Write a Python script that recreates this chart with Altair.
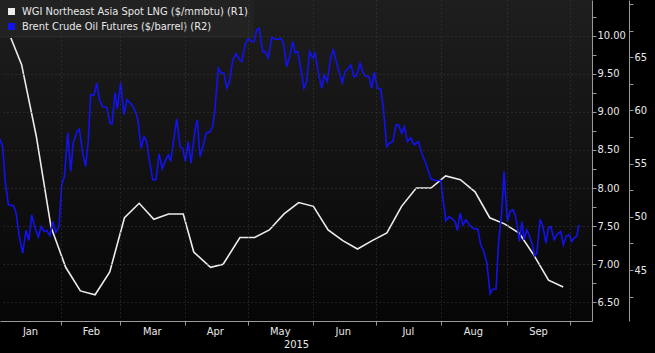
import altair as alt
import pandas as pd

LNG = "WGI Northeast Asia Spot LNG ($/mmbtu) (R1)"
BRENT = "Brent Crude Oil Futures ($/barrel) (R2)"

# Weekly LNG spot price ($/mmbtu), right axis 1
lng_dates = ["2015-01-06", "2015-01-13", "2015-01-20", "2015-01-27", "2015-02-03", "2015-02-10",
             "2015-02-17", "2015-02-24", "2015-03-03", "2015-03-10", "2015-03-17", "2015-03-24",
             "2015-03-31", "2015-04-05", "2015-04-13", "2015-04-19", "2015-04-27", "2015-05-04",
             "2015-05-11", "2015-05-18", "2015-05-25", "2015-06-01", "2015-06-08", "2015-06-15",
             "2015-06-22", "2015-06-29", "2015-07-06", "2015-07-13", "2015-07-20", "2015-07-27",
             "2015-08-03", "2015-08-10", "2015-08-17", "2015-08-24", "2015-08-31", "2015-09-07",
             "2015-09-14", "2015-09-21", "2015-09-28"]
lng_values = [10.10, 9.62, 8.68, 7.49, 6.96, 6.65, 6.60, 6.90, 7.61, 7.80, 7.59, 7.66,
              7.66, 7.16, 6.96, 7.00, 7.35, 7.35, 7.45, 7.66, 7.81, 7.76, 7.45, 7.31,
              7.20, 7.31, 7.41, 7.76, 8.00, 8.00, 8.16, 8.11, 7.95, 7.61, 7.53, 7.41,
              7.12, 6.79, 6.70]

# Daily Brent futures ($/barrel), right axis 2; days counted from 2015-01-01
brent_days = [1.7, 3.0, 4.1, 5.7, 8.1, 9.3, 10.9, 12.5, 14.1, 15.5, 16.8, 18.4, 20.0, 21.3, 22.8,
              24.0, 25.5, 26.8, 28.3, 29.8, 31.1, 32.4, 34.0, 35.4, 36.6, 38.3, 39.5, 41.1, 42.5,
              43.8, 44.9, 46.5, 47.8, 49.1, 50.6, 52.6, 54.1, 55.1, 56.5, 57.6, 59.2, 60.8, 62.1,
              63.7, 65.2, 66.8, 67.6, 68.9, 70.3, 71.6, 72.8, 74.5, 76.0, 77.5, 79.0, 80.8, 81.9,
              83.0, 85.9, 87.5, 88.8, 90.0, 91.4, 92.7, 94.6, 95.7, 97.0, 98.3, 99.9, 101.8, 103.0,
              104.1, 105.7, 106.9, 108.4, 109.7, 111.0, 112.6, 114.1, 115.7, 116.9, 118.4, 120.0,
              121.6, 122.7, 124.0, 125.2, 126.9, 128.0, 129.5, 131.2, 132.7, 134.3, 135.4, 136.7,
              138.3, 139.9, 141.2, 142.3, 143.5, 145.0, 146.5, 147.8, 149.2, 150.7, 151.8, 153.4,
              155.0, 156.1, 157.6, 159.3, 160.5, 162.1, 163.4, 164.8, 166.1, 167.6, 168.8, 170.4,
              171.7, 173.2, 174.5, 175.6, 177.5, 178.8, 180.0, 181.5, 183.1, 184.3, 185.1, 185.9,
              187.2, 188.8, 190.4, 191.5, 193.1, 194.3, 195.8, 197.4, 199.0, 201.0, 202.6, 204.2,
              205.8, 207.1, 209.0, 210.5, 211.7, 212.9, 214.1, 215.6, 217.2, 218.5, 219.6, 220.9,
              222.2, 223.6, 225.2, 226.7, 228.0, 229.3, 230.7, 232.0, 233.6, 234.3, 235.2, 236.4,
              238.0, 239.2, 240.7, 241.8, 243.4, 244.7, 246.0, 247.1, 248.2, 249.1, 250.3, 251.4,
              252.6, 253.9, 255.3, 256.3, 257.4, 259.0, 260.3, 261.8, 262.9, 264.1, 265.7, 266.9,
              268.8, 270.1, 271.4, 272.9, 274.1, 275.2, 276.5, 277.4]
brent_values = [57.30, 56.60, 53.48, 51.13, 51.04, 50.41, 48.15, 46.60, 48.72, 47.78, 50.19, 48.94,
                48.10, 49.09, 48.62, 48.72, 48.22, 49.56, 48.53, 49.09, 53.01, 53.79, 57.92, 54.26,
                56.92, 58.01, 58.24, 55.99, 54.73, 57.23, 61.46, 61.46, 62.56, 60.99, 60.36, 60.27,
                58.80, 58.71, 61.68, 60.12, 62.61, 59.58, 60.99, 60.71, 60.30, 59.58, 58.80, 56.45,
                57.54, 57.07, 55.36, 53.48, 53.48, 55.92, 54.51, 55.45, 55.83, 55.20, 59.21, 56.58,
                56.39, 55.20, 57.07, 55.05, 58.17, 59.11, 55.67, 56.53, 57.86, 58.01, 58.48, 60.05,
                63.97, 63.55, 63.50, 62.09, 62.71, 64.74, 65.31, 64.81, 64.59, 66.15, 66.78, 66.46,
                66.46, 67.56, 67.72, 65.53, 65.53, 64.91, 66.88, 66.69, 66.69, 66.78, 66.37, 64.12,
                65.22, 66.46, 65.43, 65.53, 63.90, 62.09, 62.71, 65.53, 64.91, 65.38, 63.50, 62.09,
                63.34, 62.71, 65.06, 65.69, 64.44, 63.50, 62.61, 63.65, 63.97, 64.28, 63.12, 63.34,
                64.44, 63.65, 63.24, 63.18, 62.09, 63.59, 62.09, 62.00, 60.21, 58.48, 56.60, 56.92,
                57.07, 58.64, 58.64, 57.86, 58.48, 57.07, 57.42, 56.76, 57.07, 55.99, 55.20, 54.26,
                53.55, 53.41, 53.41, 53.41, 51.44, 49.63, 50.03, 49.79, 49.56, 48.72, 50.35, 49.25,
                49.72, 49.25, 49.00, 48.85, 48.85, 47.37, 46.84, 45.71, 44.40, 42.77, 43.20, 43.21,
                47.53, 50.43, 54.26, 49.58, 50.52, 50.66, 50.19, 49.09, 47.68, 49.56, 47.84, 48.78,
                48.22, 47.37, 46.34, 46.58, 49.77, 49.09, 47.53, 48.94, 49.09, 47.84, 48.31, 48.62,
                47.37, 48.17, 48.31, 47.68, 48.00, 48.22, 49.25]

month_starts = [2, 3, 4, 5, 6, 7, 8, 9, 10]
month_label_days = [(1, 17), (2, 15), (3, 16), (4, 15), (5, 16), (6, 15), (7, 16), (8, 16), (9, 16)]
r1_ticks = [6.5, 6.75, 7.0, 7.25, 7.5, 7.75, 8.0, 8.25, 8.5, 8.75, 9.0, 9.25, 9.5, 9.75, 10.0, 10.25]
r2_ticks = [42.5, 45, 47.5, 50, 52.5, 55, 57.5, 60, 62.5, 65, 67.5, 70]

base = pd.Timestamp("2015-01-01")
lng_df = pd.DataFrame({"date": pd.to_datetime(lng_dates), "value": lng_values, "series": LNG})
brent_df = pd.DataFrame({"date": base + pd.to_timedelta(brent_days, unit="D"),
                         "value": brent_values, "series": BRENT})

FONT = "Liberation Sans Narrow, DejaVu Sans Condensed, Roboto, sans-serif"
TXT = "#e8e8e8"
AX = "#9a9a9a"
GRID = "#3a3a3a"

xdomain = [alt.DateTime(year=2015, month=1, date=2, hours=17),
           alt.DateTime(year=2015, month=10, date=11, hours=17)]
xscale = alt.Scale(domain=xdomain)

color = alt.Color("series:N",
                  scale=alt.Scale(domain=[LNG, BRENT], range=["#ececec", "#1212f0"]),
                  legend=alt.Legend(title=None, orient="top-left", offset=0, padding=6,
                                    fillColor="#222222", labelColor=TXT, labelFont=FONT,
                                    labelFontSize=11, labelLimit=400, symbolType="square",
                                    symbolSize=9, symbolStrokeWidth=4, rowPadding=3,
                                    clipHeight=11, labelOffset=5))

bg = alt.Chart(pd.DataFrame({"a": [0]})).mark_rect(
    fill=alt.Gradient(gradient="linear",
                      stops=[alt.GradientStop(color="#1e1e1e", offset=0),
                             alt.GradientStop(color="#060606", offset=1)],
                      x1=0, x2=0, y1=0, y2=1)
).encode(x=alt.value(0), x2=alt.value("width"), y=alt.value(0), y2=alt.value("height"))

lng = alt.Chart(lng_df).mark_line(strokeWidth=1.6).encode(
    x=alt.X("date:T", scale=xscale,
            axis=alt.Axis(orient="bottom", values=[alt.DateTime(year=2015, month=m, date=1) for m in month_starts],
                          labels=False, title=None, grid=True, gridColor=GRID, gridDash=[1, 3],
                          domainColor=AX, tickColor=AX, tickSize=4, zindex=1)),
    y=alt.Y("value:Q", scale=alt.Scale(domain=[6.255, 10.468], nice=False, zero=False),
            axis=alt.Axis(orient="right", values=r1_ticks, format=".2f",
                          labelExpr="datum.value % 0.5 == 0 ? datum.label : ''",
                          title=None, grid=True, gridColor=GRID, gridDash=[1, 3],
                          gridOpacity=alt.ExprRef("datum.value % 0.5 == 0 ? 1 : 0"),
                          domainColor=AX, tickColor=AX, tickSize=4, labelPadding=1,
                          labelColor=TXT, labelFont=FONT, labelFontSize=11, zindex=1)),
    color=color,
)

brent = alt.Chart(brent_df).mark_line(strokeWidth=1.6).encode(
    x=alt.X("date:T", scale=xscale,
            axis=alt.Axis(orient="bottom",
                          values=[alt.DateTime(year=2015, month=m, date=d) for m, d in month_label_days],
                          format="%b", ticks=False, tickSize=0, domain=False, grid=False,
                          labelPadding=4, labelColor=TXT, labelFont=FONT, labelFontSize=11,
                          title="2015", titleColor=TXT, titleFont=FONT, titleFontSize=11,
                          titleFontWeight="normal", titlePadding=2)),
    y=alt.Y("value:Q", scale=alt.Scale(domain=[40.21, 70.38], nice=False, zero=False),
            axis=alt.Axis(orient="right", offset=37, values=r2_ticks, format=".0f",
                          labelExpr="datum.value % 5 == 0 && datum.value < 70 ? datum.label : ''",
                          title=None, grid=False, domainColor=AX, tickColor=AX, tickSize=4,
                          labelPadding=1, labelColor=TXT, labelFont=FONT, labelFontSize=11)),
    color=color,
)

chart = alt.layer(bg, lng, brent).resolve_scale(
    y="independent", x="independent"
).properties(
    width=592, height=321, background="#000000", autosize="none",
    padding={"left": 0, "top": 0, "right": 63, "bottom": 32},
).configure_view(stroke=None)

chart.save("out.html", embed_options={"renderer": "svg", "actions": False})
